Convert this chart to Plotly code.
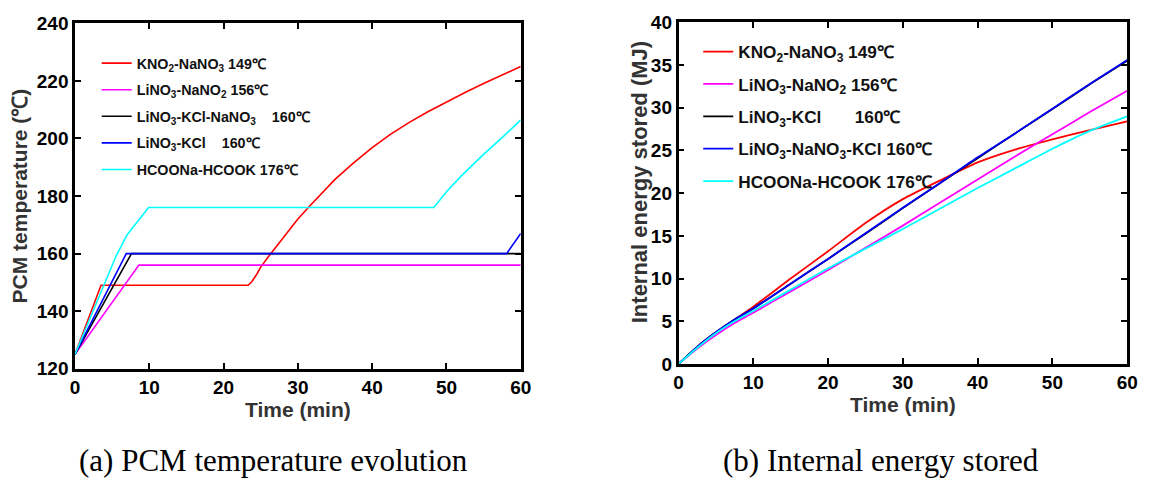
import plotly.graph_objects as go

W, H = 1153, 483

# ---------------- (a) PCM temperature evolution ----------------
names_a = ["KNO<sub>2</sub>-NaNO<sub>3</sub> 149℃",
           "LiNO<sub>3</sub>-NaNO<sub>2</sub> 156℃",
           "LiNO<sub>3</sub>-KCl-NaNO<sub>3</sub>    160℃",
           "LiNO<sub>3</sub>-KCl    160℃",
           "HCOONa-HCOOK 176℃"]
colors = ["#ff0000", "#ff00ff", "#000000", "#0000ff", "#00ffff"]

red_t = [0, 3.5, 23.3, 23.8, 24.5, 25, 26, 27, 28, 29, 30, 31.5, 33, 35, 37.5, 40,
         42.5, 45, 47.5, 50, 52.5, 55, 57.5, 60]
red_T = [125, 149, 149, 150.2, 153, 155.3, 158.8, 162.2, 165.5, 168.8, 172, 176.3, 180.5,
         185.8, 191.5, 196.8, 201.5, 205.6, 209.3, 212.7, 216, 219.1, 222.1, 225]
mag_t = [0, 8.6, 60]
mag_T = [125, 156, 156]
blk_t = [0, 7.6, 60]
blk_T = [125, 160, 160]
blu_t = [0, 6.9, 58.1, 60]
blu_T = [125, 160, 160, 167]
cya_t = [0, 3.7, 5.5, 7, 8.5, 9.9, 48.3, 50, 52, 55, 58, 60]
cya_T = [125, 148, 159, 166.5, 171.5, 176, 176, 181.5, 187, 194.5, 201.5, 206.5]

series_a = [(red_t, red_T), (mag_t, mag_T), (blk_t, blk_T), (blu_t, blu_T), (cya_t, cya_T)]

# ---------------- (b) Internal energy stored ----------------
names_b = ["KNO<sub>2</sub>-NaNO<sub>3</sub> 149℃",
           "LiNO<sub>3</sub>-NaNO<sub>2</sub> 156℃",
           "LiNO<sub>3</sub>-KCl       160℃",
           "LiNO<sub>3</sub>-NaNO<sub>3</sub>-KCl 160℃",
           "HCOONa-HCOOK 176℃"]
t_b = [0, 2.5, 5, 7.5, 10, 15, 20, 25, 30, 35, 40, 45, 50, 55, 60]
red_E = [0, 2.0, 3.7, 5.2, 6.7, 10.0, 13.2, 16.5, 19.3, 21.5, 23.6, 25.1, 26.3, 27.4, 28.4]
mag_E = [0, 1.8, 3.4, 4.8, 6.0, 8.5, 11.0, 13.6, 16.2, 18.9, 21.6, 24.3, 26.9, 29.5, 32.0]
blk_E = [0, 2.0, 3.7, 5.2, 6.5, 9.4, 12.3, 15.25, 18.25, 21.2, 24.1, 27.0, 29.85, 32.75, 35.5]
blu_E = [0, 2.0, 3.7, 5.2, 6.5, 9.4, 12.3, 15.3, 18.3, 21.2, 24.2, 27.0, 29.9, 32.8, 35.6]
cya_E = [0, 1.9, 3.6, 5.0, 6.2, 8.7, 11.2, 13.5, 15.8, 18.2, 20.6, 22.9, 25.2, 27.3, 29.0]
series_b = [red_E, mag_E, blk_E, blu_E, cya_E]

captions = ["(a) PCM temperature evolution", "(b) Internal energy stored"]
ytitle_b = "Internal energy stored (MJ)"

fig = go.Figure()
for i, ((t, v), nm) in enumerate(zip(series_a, names_a)):
    fig.add_trace(go.Scatter(x=t, y=v, mode="lines", name=nm,
                             line=dict(color=colors[i], width=1.6),
                             xaxis="x", yaxis="y", legend="legend",
                             legendgroup="a%d" % i))
for i, (v, nm) in enumerate(zip(series_b, names_b)):
    fig.add_trace(go.Scatter(x=t_b, y=v, mode="lines", name=nm,
                             line=dict(color=colors[i], width=1.8, shape="spline", smoothing=0.6),
                             xaxis="x2", yaxis="y2", legend="legend2",
                             legendgroup="b%d" % i))

FONT = "Liberation Sans, Arial, sans-serif"
tickfont = dict(family=FONT, size=19, color="#000", weight="bold")

def tfont(sz):
    return dict(family=FONT, size=sz, color="#333", weight="bold")

axis_common = dict(showline=True, linewidth=2.5, linecolor="#000", mirror="ticks",
                   ticks="inside", ticklen=6, tickwidth=2, tickcolor="#000",
                   showgrid=False, zeroline=False, tickfont=tickfont)

fig.update_layout(
    width=W, height=H, margin=dict(l=0, r=0, t=0, b=0),
    paper_bgcolor="white", plot_bgcolor="white",
    xaxis=dict(domain=[71 / W, 523 / W], range=[0, 60], dtick=10,
               title=dict(text="Time (min)", font=tfont(21), standoff=1),
               anchor="y", **axis_common),
    yaxis=dict(domain=[(H - 375) / H, (H - 14) / H], range=[120, 240], dtick=20,
               title=dict(text="PCM temperature (℃)", font=tfont(21), standoff=4),
               anchor="x", **axis_common),
    xaxis2=dict(domain=[683 / W, 1138 / W], range=[0, 60], dtick=10,
                title=dict(text="Time (min)", font=tfont(21), standoff=1),
                anchor="y2", **axis_common),
    yaxis2=dict(domain=[(H - 370) / H, (H - 13) / H], range=[0, 40], dtick=5,
                anchor="x2", **axis_common),
    legend=dict(x=93 / W, y=(H - 39) / H, xanchor="left", yanchor="top",
                bgcolor="rgba(0,0,0,0)", tracegroupgap=5,
                font=dict(family=FONT, size=14.3, color="#111", weight="bold")),
    legend2=dict(x=703 / W, y=(H - 25) / H, xanchor="left", yanchor="top",
                 bgcolor="rgba(0,0,0,0)", tracegroupgap=7,
                 font=dict(family=FONT, size=17.2, color="#111", weight="bold")),
    showlegend=True,
)

fig.add_annotation(text=ytitle_b, x=643 / W, y=(H - 180) / H, xref="paper", yref="paper",
                   showarrow=False, textangle=-90, xanchor="center", yanchor="middle",
                   font=tfont(22))

for cap, cx in zip(captions, [272, 888]):
    fig.add_annotation(text=cap, x=cx / W, y=(H - 471) / H, xref="paper", yref="paper",
                       showarrow=False, xanchor="center", yanchor="middle",
                       font=dict(family="Liberation Serif, Times New Roman, serif", size=31, color="#000"))

fig.write_html("out.html")
